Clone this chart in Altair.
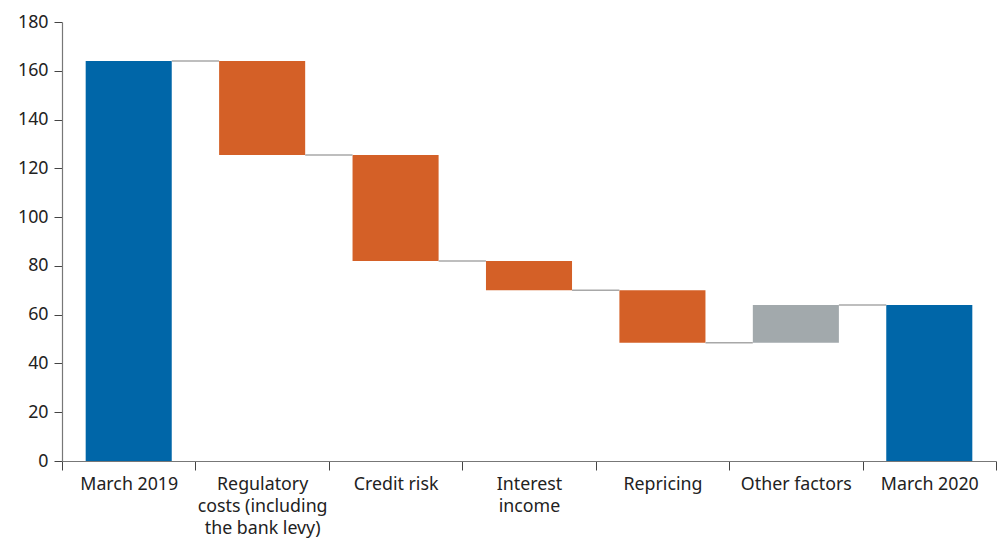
import altair as alt
import pandas as pd

categories = ["March 2019", "Regulatory|costs (including|the bank levy)", "Credit risk",
              "Interest|income", "Repricing", "Other factors", "March 2020"]
starts = [0, 164, 125.5, 82, 70, 48.5, 0]
ends = [164, 125.5, 82, 70, 48.5, 64, 64]
kinds = ["total", "decrease", "decrease", "decrease", "decrease", "increase", "total"]

df = pd.DataFrame({"cat": categories, "idx": list(range(len(categories))),
                   "start": starts, "end": ends, "kind": kinds})

HALF = 0.3225
W, H = 934, 439
n = len(categories)
FONT = "Noto Sans"

label_arr = "[" + ",".join("'" + c.replace("'", "\\'") + "'" for c in categories) + "]"

x_scale = alt.Scale(domain=[-0.5, n - 0.5], nice=False, zero=False)
y_scale = alt.Scale(domain=[0, 180], nice=False)
x_axis = alt.Axis(values=[i - 0.5 for i in range(n + 1)], title=None,
                  labelExpr=f"datum.value < {n - 1} ? split({label_arr}[round(datum.value + 0.5)], '|') : ''",
                  labelOffset=W / n / 2, tickSize=9, labelPadding=5, grid=False,
                  labelLineHeight=22, labelFontSize=17.8, labelAlign="center", labelBaseline="top",
                  labelFont=FONT, labelColor="#222222")
y_axis = alt.Axis(values=list(range(0, 181, 20)), title=None, tickSize=8, labelPadding=6,
                  grid=False, labelFontSize=17.8, labelFont=FONT, labelColor="#222222")

base = alt.Chart(df)

bars = base.mark_bar().transform_calculate(
    x0="datum.idx - %f" % HALF, x1="datum.idx + %f" % HALF
).encode(
    x=alt.X("x0:Q", scale=x_scale, axis=x_axis),
    x2="x1:Q",
    y=alt.Y("start:Q", scale=y_scale, axis=y_axis),
    y2="end:Q",
    color=alt.Color("kind:N", scale=alt.Scale(domain=["total", "decrease", "increase"],
                                              range=["#0066a8", "#d46027", "#a2a9ac"]), legend=None),
)

connectors = base.mark_rule(color="#a8a8a8", strokeWidth=1.5).transform_filter(
    f"datum.idx < {n - 1}"
).transform_calculate(
    x0="datum.idx + %f" % HALF, x1="datum.idx + 1 - %f" % HALF
).encode(
    x=alt.X("x0:Q", scale=x_scale),
    x2="x1:Q",
    y=alt.Y("end:Q", scale=y_scale),
)

chart = alt.layer(bars, connectors).properties(
    width=W, height=H,
    background="white",
    autosize=alt.AutoSizeParams(type="none"),
    padding={"left": 62, "top": 22, "right": 2, "bottom": 78},
).configure_view(strokeWidth=0, stroke="transparent").configure_axis(
    domainColor="#777777", domainWidth=1.2, grid=False,
    tickColor="#444444", tickWidth=1
)

chart.save("out.html", embed_options={"renderer": "svg", "actions": False})
